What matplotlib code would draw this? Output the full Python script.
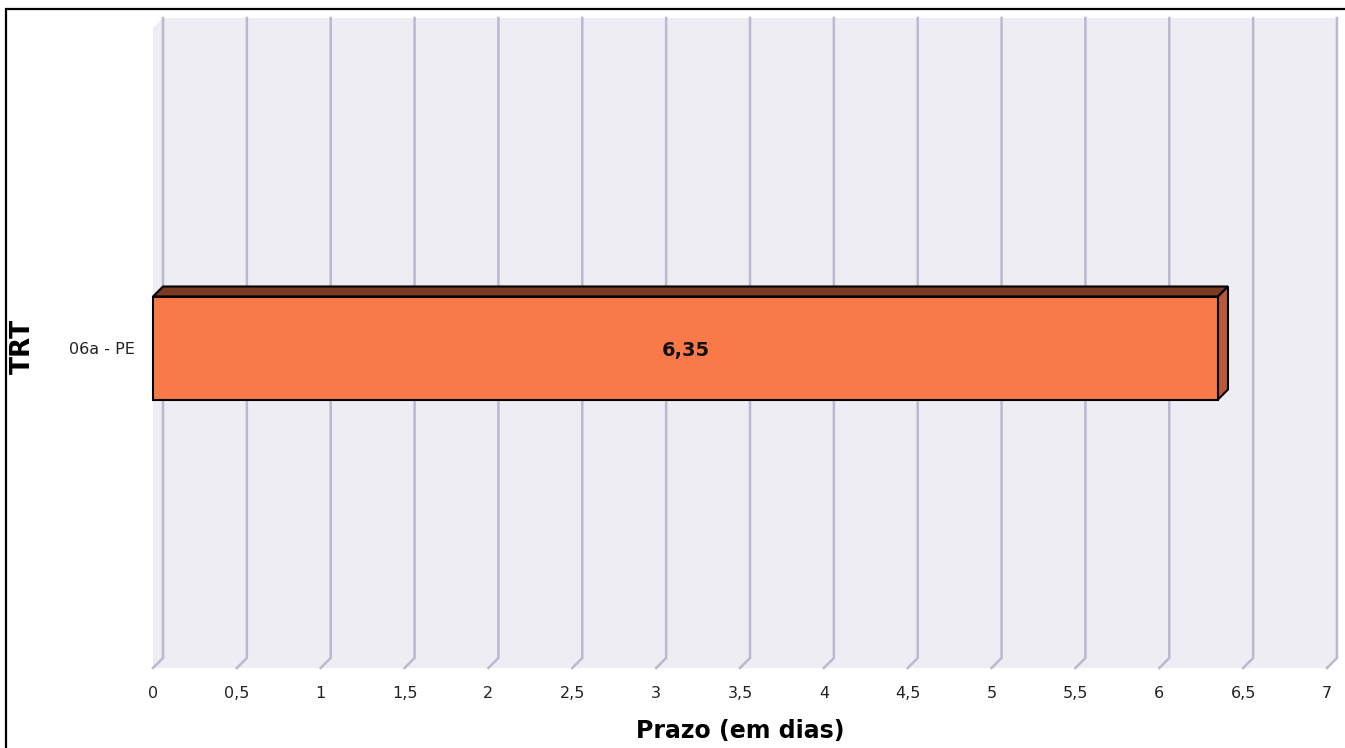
import matplotlib
matplotlib.use("Agg")
import matplotlib.pyplot as plt
from matplotlib.patches import Polygon, Rectangle
from matplotlib.lines import Line2D

# ---- data ----
categories = ["06a - PE"]
values = [6.35]
value_labels = ["6,35"]
xticks = [0, 0.5, 1, 1.5, 2, 2.5, 3, 3.5, 4, 4.5, 5, 5.5, 6, 6.5, 7]
xtick_labels = ["0", "0,5", "1", "1,5", "2", "2,5", "3", "3,5", "4", "4,5", "5", "5,5", "6", "6,5", "7"]
xlabel = "Prazo (em dias)"
ylabel = "TRT"

W, H = 1345, 748
DPI = 100
fig = plt.figure(figsize=(W / DPI, H / DPI), dpi=DPI)
fig.patch.set_facecolor("white")

# front plane of plot area in pixels
L, R, T, B = 153, 1327, 28, 668
ax = fig.add_axes([L / W, (H - B) / H, (R - L) / W, (B - T) / H])
ax.set_xlim(0, 7)
ax.set_ylim(-0.5, 0.5)
ax.patch.set_visible(False)
for s in ax.spines.values():
    s.set_visible(False)

DEPTH = 10  # pixels
dx = DEPTH * 7 / (R - L)
dy = DEPTH * 1.0 / (B - T)

wall_c = "#eeedf3"
grid_c = "#b9b9cf"

x0, x1, y0, y1 = 0, 7, -0.5, 0.5
wall = Polygon([(x0, y1), (x0 + dx, y1 + dy), (x1 + dx, y1 + dy), (x1 + dx, y0 + dy),
                (x1, y0), (x0, y0)], closed=True, facecolor=wall_c, edgecolor="none",
               clip_on=False, zorder=0)
ax.add_patch(wall)

for xt in xticks:
    ax.add_line(Line2D([xt + dx, xt + dx, xt], [y1 + dy, y0 + dy, y0], color=grid_c, lw=1.8,
                       clip_on=False, zorder=1, solid_joinstyle="miter"))

front_c = "#f97a48"
top_c = "#7b3a22"
side_c = "#b85a35"
bh = 103 / (B - T)
for i, (cat, v) in enumerate(zip(categories, values)):
    yc = i
    yb, yt = yc - bh / 2, yc + bh / 2
    top = Polygon([(0, yt), (dx, yt + dy), (v + dx, yt + dy), (v, yt)], closed=True,
                  facecolor=top_c, edgecolor="black", lw=1.5, zorder=3, clip_on=False)
    side = Polygon([(v, yt), (v + dx, yt + dy), (v + dx, yb + dy), (v, yb)], closed=True,
                   facecolor=side_c, edgecolor="black", lw=1.5, zorder=3, clip_on=False)
    ax.add_patch(top)
    ax.add_patch(side)
    ax.barh([yc], [v], height=bh, color=front_c, edgecolor="black", lw=1.5, zorder=4,
            clip_on=False)
    ax.text(v / 2, yc - 0.004, value_labels[i], ha="center", va="center",
            fontsize=14, fontweight="bold", color="#111111", zorder=5)

ax.set_xticks(xticks)
ax.set_xticklabels(xtick_labels, fontsize=11.5, color="#222222")
ax.tick_params(axis="x", length=0, pad=13)
ax.set_yticks(range(len(categories)))
ax.set_yticklabels(categories, fontsize=11.5, color="#222222")
ax.tick_params(axis="y", length=0, pad=13)

ax.set_xlabel(xlabel, fontsize=17, fontweight="bold", labelpad=13)
fig.text(23 / W, 1 - 346 / H, ylabel, rotation=90, ha="center", va="center",
         fontsize=19, fontweight="bold")

# outer border (left and top visible)
fig.add_artist(Rectangle((6 / W, -0.1), 1.2, (H - 9) / H + 0.1, transform=fig.transFigure,
                         fill=False, edgecolor="black", lw=1.6, clip_on=False))

fig.savefig("out.png", dpi=DPI)
